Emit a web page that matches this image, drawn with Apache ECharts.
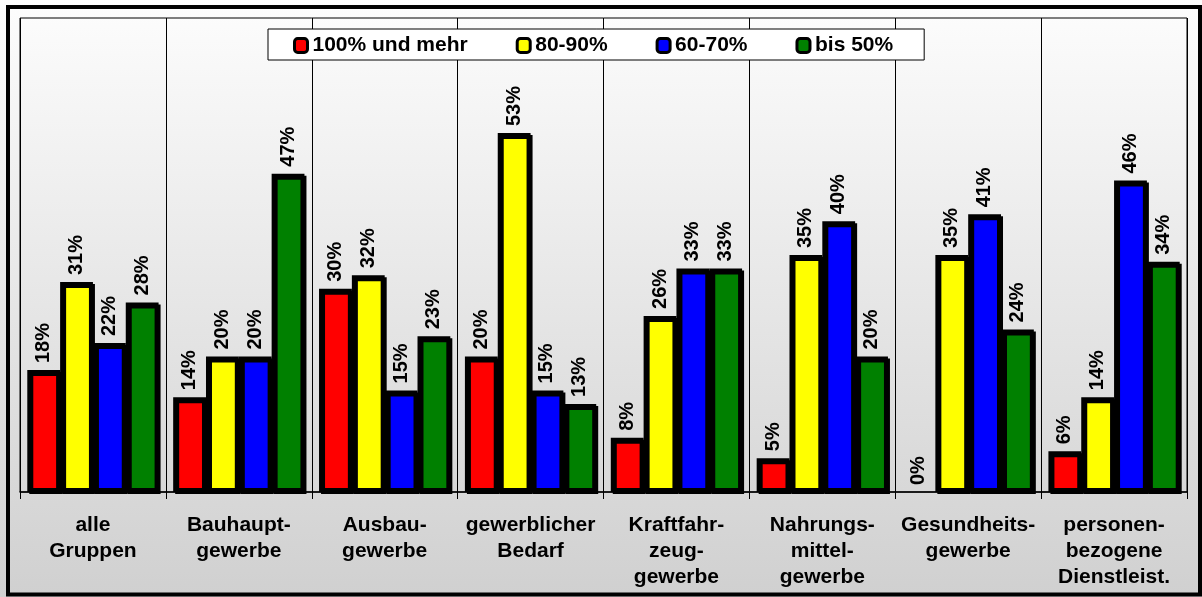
<!DOCTYPE html>
<html>
<head>
<meta charset="utf-8">
<script src="https://cdn.jsdelivr.net/npm/echarts@6/dist/echarts.min.js"></script>
<style>
  html, body { margin: 0; padding: 0; background: #ffffff; }
  #chart { width: 1202px; height: 597px; }
</style>
</head>
<body>
<div id="chart"></div>
<script>
// Branchengruppen (Kategorien der x-Achse)
const categories = [
  'alle\nGruppen',
  'Bauhaupt-\ngewerbe',
  'Ausbau-\ngewerbe',
  'gewerblicher\nBedarf',
  'Kraftfahr-\nzeug-\ngewerbe',
  'Nahrungs-\nmittel-\ngewerbe',
  'Gesundheits-\ngewerbe',
  'personen-\nbezogene\nDienstleist.'
];

// Anteile in Prozent je Gruppe
const seriesNames = ['100% und mehr', '80-90%', '60-70%', 'bis 50%'];
const valuesUeber100 = [18, 14, 30, 20, 8, 5, 0, 6];
const values80bis90 = [31, 20, 32, 53, 26, 35, 35, 14];
const values60bis70 = [22, 20, 15, 15, 33, 40, 41, 46];
const valuesBis50 = [28, 47, 23, 13, 33, 20, 24, 34];

const seriesColors = ['#ff0000', '#ffff00', '#0000ff', '#008000'];
const seriesValues = [valuesUeber100, values80bis90, values60bis70, valuesBis50];

const FONT = '"Liberation Sans", Arial, sans-serif';

const chart = echarts.init(document.getElementById('chart'), null, { renderer: 'canvas' });

// a zero-height bar gets no outline, only its label
function toData(values) {
  return values.map(v => v === 0
    ? { value: v, itemStyle: { borderWidth: 0, shadowOffsetX: 0, shadowOffsetY: 0 } }
    : v);
}

const series = seriesNames.map((name, i) => ({
  name: name,
  type: 'bar',
  data: toData(seriesValues[i]),
  barGap: '0%',
  barCategoryGap: '10%',
  itemStyle: {
    color: seriesColors[i],
    borderColor: '#000000',
    borderWidth: 4,
    shadowColor: '#000000',
    shadowBlur: 0,
    shadowOffsetX: 2,
    shadowOffsetY: 2
  },
  label: {
    show: true,
    position: 'top',
    rotate: 90,
    align: 'left',
    verticalAlign: 'middle',
    distance: 7,
    formatter: '{c}%',
    color: '#000000',
    fontFamily: FONT,
    fontWeight: 'bold',
    fontSize: 20
  },
  emphasis: { disabled: true },
  animation: false
}));

chart.setOption({
  animation: false,
  backgroundColor: {
    type: 'linear', x: 0, y: 0, x2: 0, y2: 1,
    colorStops: [
      { offset: 0, color: '#fdfdfd' },
      { offset: 1, color: '#d0d0d0' }
    ]
  },
  textStyle: { fontFamily: FONT },
  legend: {
    left: 268,
    top: 29,
    padding: [6, 31, 4, 25],
    itemGap: 48,
    itemWidth: 13,
    itemHeight: 14,
    icon: 'roundRect',
    backgroundColor: '#ffffff',
    borderColor: '#000000',
    borderWidth: 1,
    itemStyle: {
      borderColor: '#000000',
      borderWidth: 3,
      shadowBlur: 0,
      shadowOffsetX: 0,
      shadowOffsetY: 0
    },
    textStyle: {
      fontFamily: FONT,
      fontWeight: 'bold',
      fontSize: 21,
      color: '#000000'
    },
    data: seriesNames
  },
  grid: {
    left: 20,
    right: 15,
    top: 18,
    bottom: 105,
    show: true,
    borderColor: '#000000',
    borderWidth: 1,
    backgroundColor: 'transparent',
    containLabel: false
  },
  xAxis: {
    type: 'category',
    data: categories,
    axisLine: { show: true, lineStyle: { color: '#000000', width: 1.5 } },
    axisTick: { show: true, length: 7, lineStyle: { color: '#000000', width: 1 } },
    splitLine: { show: true, lineStyle: { color: '#000000', width: 1 } },
    axisLabel: {
      interval: 0,
      margin: 20,
      color: '#000000',
      fontFamily: FONT,
      fontWeight: 'bold',
      fontSize: 21,
      lineHeight: 26
    }
  },
  yAxis: {
    type: 'value',
    min: 0,
    max: 70,
    show: false,
    splitLine: { show: false }
  },
  graphic: [{
    type: 'rect',
    shape: { x: 8, y: 7, width: 1192, height: 587.5 },
    style: { fill: null, stroke: '#000000', lineWidth: 4 },
    silent: true,
    z: 100
  }],
  series: series
});
</script>
</body>
</html>
